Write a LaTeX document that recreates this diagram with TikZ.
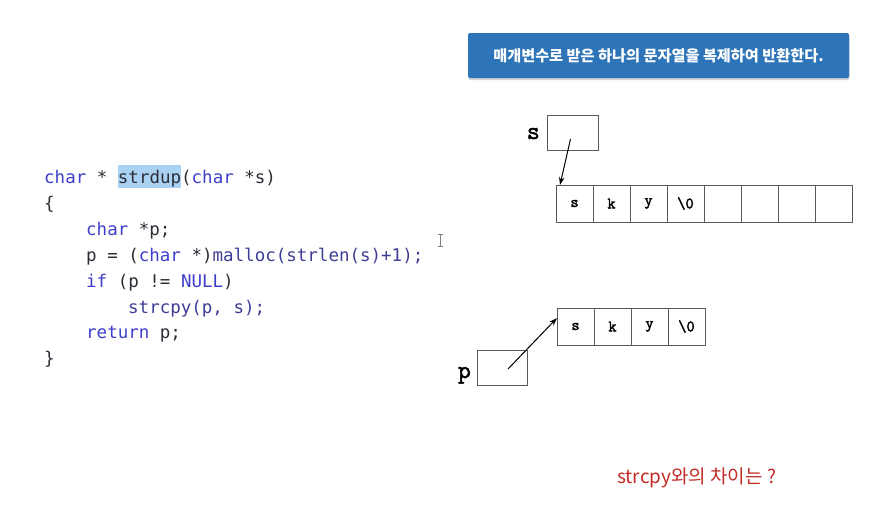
\documentclass[tikz,border=0pt]{standalone}
\usepackage{fontspec}
\setmainfont{DejaVu Sans}
\newfontfamily\codefont{DejaVu Sans Mono}
\newfontfamily\krfont{Noto Sans CJK KR}
\newfontfamily\cellfont[FakeBold=2.2]{Latin Modern Mono}
\usetikzlibrary{arrows.meta,shadows}
\definecolor{kw}{RGB}{62,62,205}
\definecolor{fn}{RGB}{62,62,150}
\definecolor{plain}{RGB}{45,45,55}
\definecolor{hl}{RGB}{170,210,242}
\definecolor{banner}{RGB}{45,116,184}
\definecolor{redtxt}{RGB}{195,45,40}
\definecolor{boxgray}{RGB}{90,90,90}
\tikzset{
  codeline/.style={anchor=base west,inner sep=0pt,font=\codefont\fontsize{17.5}{20}\selectfont,text=plain},
  cell/.style={draw=boxgray,line width=0.8pt,minimum width=37pt,minimum height=37pt,inner sep=0pt,outer sep=0pt,font=\cellfont\fontsize{16}{18}\selectfont},
  ptrbox/.style={draw=boxgray,line width=0.8pt,inner sep=0pt,outer sep=0pt},
  varlabel/.style={inner sep=0pt,font=\cellfont\fontsize{25}{27}\selectfont},
  ptrarrow/.style={line width=1pt,-{Stealth[length=8pt,width=5.5pt]}},
}
\newcommand{\kwd}[1]{\textcolor{kw}{#1}}
\newcommand{\fnc}[1]{\textcolor{fn}{#1}}
\begin{document}
\begin{tikzpicture}[x=1pt,y=-1pt]
\useasboundingbox[fill=white] (0,0) rectangle (895,512);
% banner
\node[fill=banner,rounded corners=2pt,minimum width=381pt,minimum height=45pt,
      drop shadow={shadow xshift=0.5pt,shadow yshift=-2pt,opacity=0.35},
      text=white,font=\krfont\bfseries\fontsize{15.2}{17}\selectfont] (banner) at (658.5,55.5)
  {매개변수로 받은 하나의 문자열을 복제하여 반환한다.};
% code
\fill[hl] (118,165) rectangle (181,188);
\node[codeline] (l1) at (44,183) {\kwd{char} * strdup(\kwd{char} *s)};
\node[codeline] (l2) at (44,209) {\{};
\node[codeline] (l3) at (86,235) {\kwd{char} *p;};
\node[codeline] (l4) at (86,261) {p = (\kwd{char} *)\fnc{malloc(strlen(s)+1);}};
\node[codeline] (l5) at (86,287) {\kwd{if} (p != \kwd{NULL})};
\node[codeline] (l6) at (128,313) {\fnc{strcpy(p, s);}};
\node[codeline] (l7) at (86,338) {\kwd{return} p;};
\node[codeline] (l8) at (44,364) {\}};
% cursor
\draw[gray,line width=0.7pt] (440,234) -- (440,246) (437.5,234) -- (442.5,234) (437.5,246) -- (442.5,246);
% s pointer and array
\node[ptrbox,minimum width=51pt,minimum height=35pt] (sbox) at (572.5,132.5) {};
\node[varlabel,anchor=base east] (slabel) at (540,139) {s};
\foreach \i/\t in {1/s,2/k,3/y,4/{\textbackslash 0},5/{},6/{},7/{},8/{}}{
  \node[cell] (a\i) at ({574.5+37*(\i-1)},203.5) {\t};
}
\coordinate (sstart) at (570.5,139);
\draw[ptrarrow] (sstart) -- ([xshift=4pt]a1.north west);
% p pointer and array
\foreach \i/\t in {1/s,2/k,3/y,4/{\textbackslash 0}}{
  \node[cell] (b\i) at ({575.5+37*(\i-1)},326.5) {\t};
}
\node[ptrbox,minimum width=50pt,minimum height=35pt] (pbox) at (502,367.5) {};
\node[varlabel,anchor=base east] (plabel) at (471,378) {p};
\coordinate (pstart) at (508,369);
\draw[ptrarrow] (pstart) -- ([yshift=-10pt]b1.north west);
% red question
\node[anchor=west,inner sep=0pt,text=redtxt,font=\krfont\fontsize{19}{21}\selectfont] (q) at (617,478) {strcpy와의 차이는 ?};
\end{tikzpicture}
\end{document}
